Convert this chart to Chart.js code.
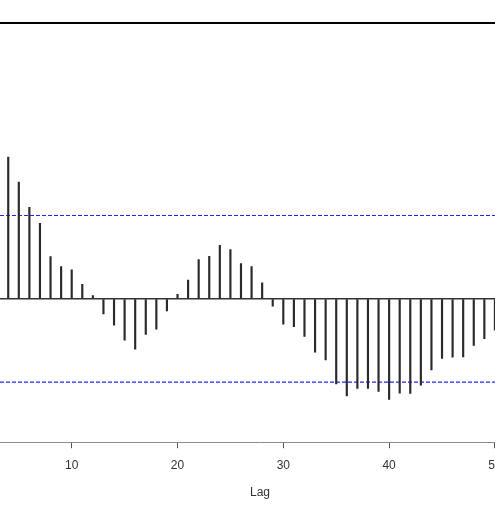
<!DOCTYPE html>
<html>
<head>
<meta charset="utf-8">
<script src="https://cdn.jsdelivr.net/npm/chart.js@4"></script>
<style>
  html, body { margin: 0; padding: 0; overflow: hidden; background: #fff; }
  #acfChart { display: block; }
</style>
</head>
<body>
<canvas id="acfChart" width="520" height="513"></canvas>
<script>
// ACF values (lags 4..50 are the visible part)
const lags = [4, 5, 6, 7, 8, 9, 10, 11, 12, 13, 14, 15, 16, 17, 18, 19, 20,
  21, 22, 23, 24, 25, 26, 27, 28, 29, 30, 31, 32, 33, 34, 35, 36, 37, 38, 39, 40,
  41, 42, 43, 44, 45, 46, 47, 48, 49, 50];
const acfValues = [0.514, 0.423, 0.332, 0.274, 0.153, 0.117, 0.105, 0.052, 0.012,
  -0.055, -0.096, -0.150, -0.183, -0.129, -0.110, -0.044, 0.016,
  0.068, 0.142, 0.154, 0.194, 0.178, 0.128, 0.117, 0.058, -0.027, -0.092,
  -0.101, -0.136, -0.194, -0.222, -0.309, -0.352, -0.325, -0.325, -0.336, -0.365,
  -0.342, -0.343, -0.313, -0.258, -0.216, -0.212, -0.211, -0.169, -0.145, -0.114];
const ciLevel = 0.302;          // dashed confidence bounds
const xTicks = [10, 20, 30, 40, 50];
const xRange = [3.223, 52.37];  // visible lag window
const yRange = [-0.52, 1];

const bars = lags.map((l, i) => ({ x: l, y: acfValues[i] }));
const ciUpper = xRange.map(x => ({ x: x, y: ciLevel }));
const ciLower = xRange.map(x => ({ x: x, y: -ciLevel }));

Chart.defaults.font.family = '"Liberation Sans", Arial, sans-serif';
Chart.defaults.font.size = 12;

var ctx = document.getElementById('acfChart').getContext('2d');
var acfChart = new Chart(ctx, {
  type: 'bar',
  data: {
    datasets: [
      {
        label: 'ACF',
        data: bars,
        backgroundColor: '#2a2a2a',
        borderWidth: 0,
        barThickness: 1.5
      },
      {
        type: 'line',
        label: 'upper',
        data: ciUpper,
        borderColor: '#2424ff',
        backgroundColor: '#2424ff',
        borderWidth: 1.2,
        borderDash: [4, 2],
        pointRadius: 0
      },
      {
        type: 'line',
        label: 'lower',
        data: ciLower,
        borderColor: '#2424ff',
        backgroundColor: '#2424ff',
        borderWidth: 1.2,
        borderDash: [4, 2],
        pointRadius: 0
      }
    ]
  },
  options: {
    responsive: false,
    animation: false,
    devicePixelRatio: 1,
    layout: { padding: { top: 23, left: 0, right: 0, bottom: 13 } },
    plugins: { legend: { display: false }, tooltip: { enabled: false } },
    scales: {
      x: {
        type: 'linear',
        position: 'bottom',
        offset: false,
        min: xRange[0],
        max: xRange[1],
        afterFit: s => { s.paddingLeft = 0; s.paddingRight = 0; },
        afterBuildTicks: s => { s.ticks = xTicks.map(v => ({ value: v })); },
        ticks: { color: '#333', padding: 10, includeBounds: false },
        grid: { offset: false, drawOnChartArea: false, drawTicks: true, tickLength: 6, color: '#555' },
        border: { display: true, color: '#8a8a8a', width: 1 },
        title: { display: true, text: 'Lag', color: '#333', padding: { top: 3, bottom: 0 } }
      },
      xTop: {
        type: 'linear',
        position: 'top',
        offset: false,
        min: xRange[0],
        max: xRange[1],
        ticks: { display: false },
        grid: { display: false, drawTicks: false },
        border: { display: true, color: '#000', width: 2 }
      },
      y: {
        min: yRange[0],
        max: yRange[1],
        ticks: { display: false, stepSize: 0.5 },
        grid: {
          drawTicks: false,
          lineWidth: 1.5,
          color: c => (c.tick && c.tick.value === 0 ? '#333' : 'rgba(0,0,0,0)')
        },
        border: { display: false }
      }
    }
  }
});
</script>
</body>
</html>
